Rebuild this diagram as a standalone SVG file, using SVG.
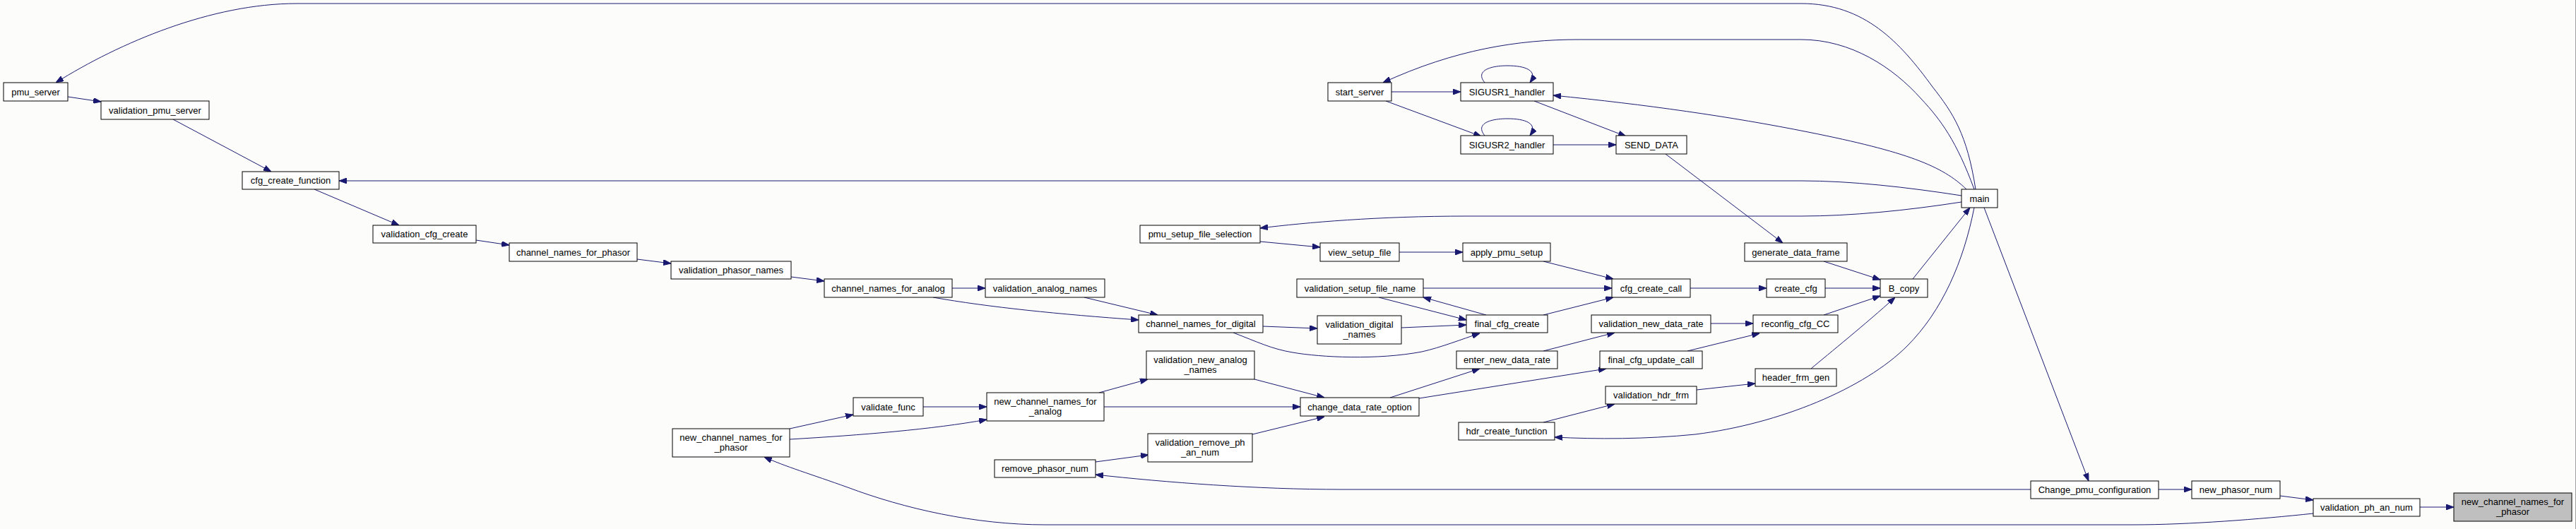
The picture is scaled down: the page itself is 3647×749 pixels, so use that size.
<svg xmlns="http://www.w3.org/2000/svg" width="3647" height="749" viewBox="0 0 3647 749">
<style>
.n rect{fill:#ffffff;stroke:#000000;stroke-width:1}
.n.h rect{fill:#bfbfbf}
.n text{font-family:"Liberation Sans",Arial,sans-serif;font-size:13px;fill:#000000;text-anchor:middle}
.e path{fill:none;stroke:#191970;stroke-width:1;marker-end:url(#arr)}
</style>
<defs>
<marker id="arr" markerWidth="11" markerHeight="8" refX="11" refY="4" orient="auto" markerUnits="userSpaceOnUse">
<path d="M0,0 L11,4 L0,8 z" fill="#191970" stroke="#191970" stroke-width="1"/>
</marker>
</defs>
<rect x="0" y="0" width="3647" height="749" fill="#fcfdfb"/>
<line x1="3646.5" y1="0" x2="3646.5" y2="749" stroke="#a0a0a0" stroke-width="1"/>
<g id="edges" class="e">
<path d="M2797,268 C2785,190 2765,160 2736,123 C2690,60 2640,5 2550,5 L420,5 C300,5 170,60 79,117"/>
<path d="M2795,268 C2770,200 2748,170 2720,140 C2680,95 2620,56 2550,56 L2235,56 C2150,56 2060,70 1958,117"/>
<path d="M2784,268 C2750,235 2700,215 2560,187 C2450,165 2330,148 2199,135"/>
<path d="M2777,277 C2700,265 2620,256 2550,256 L480,256"/>
<path d="M2777,286 C2700,298 2620,306 2550,306 L2077,306 C1950,306 1850,315 1784,323"/>
<path d="M2358,218 L2524,344"/>
<path d="M2708,395 L2789,294"/>
<path d="M2795,294 C2780,370 2750,440 2700,490 C2640,550 2520,600 2400,615 C2330,622 2260,622 2201,619"/>
<path d="M2809,294 L2957,681"/>
<path d="M2875,693 L1900,693 C1780,693 1650,683 1551,672"/>
<path d="M3056,693 L3103,693"/>
<path d="M3228,702 L3275,708"/>
<path d="M3426,718 L3474,718"/>
<path d="M3275,727 C3200,735 3100,743 3020,743 L1480,743 C1380,743 1280,720 1200,690 C1150,672 1110,660 1082,647"/>
<path d="M2102,117 C2088,100 2110,93 2134,93 C2160,93 2178,100 2166,117"/>
<path d="M2102,192 C2088,175 2110,168 2134,168 C2160,168 2178,175 2166,192"/>
<path d="M1970,130 L2068,130"/>
<path d="M1962,143 L2097,193"/>
<path d="M2172,143 L2302,193"/>
<path d="M2199,205 L2288,205"/>
<path d="M96,137 L143,144"/>
<path d="M245,169 L384,243"/>
<path d="M445,268 L565,319"/>
<path d="M674,340 L721,347"/>
<path d="M902,367 L950,373"/>
<path d="M1120,392 L1167,398"/>
<path d="M1348,408 L1395,408"/>
<path d="M1321,421 C1400,435 1500,445 1612,453"/>
<path d="M1535,421 L1639,446"/>
<path d="M1788,462 L1865,465"/>
<path d="M1746,471 C1780,484 1800,494 1830,499 C1870,506 1950,510 2013,498 C2040,492 2070,480 2095,472"/>
<path d="M1984,464 L2076,460"/>
<path d="M1952,421 L2076,453"/>
<path d="M2104,446 L2015,421"/>
<path d="M2185,446 L2284,421"/>
<path d="M2015,408 L2282,408"/>
<path d="M2185,370 L2284,395"/>
<path d="M1784,342 L1869,350"/>
<path d="M1981,357 L2071,357"/>
<path d="M2393,408 L2501,408"/>
<path d="M2584,408 L2662,408"/>
<path d="M2582,370 L2662,396"/>
<path d="M2582,446 L2662,419"/>
<path d="M2564,522 C2590,500 2640,460 2683,421"/>
<path d="M2422,458 L2482,458"/>
<path d="M2389,497 L2491,472"/>
<path d="M2402,552 L2485,543"/>
<path d="M2185,598 L2286,572"/>
<path d="M1968,563 L2095,522"/>
<path d="M2185,497 L2286,471"/>
<path d="M2009,564 L2274,522"/>
<path d="M1556,556 L1625,537"/>
<path d="M1563,576 L1841,576"/>
<path d="M1776,537 L1875,563"/>
<path d="M1773,615 L1875,590"/>
<path d="M1551,654 L1626,644"/>
<path d="M1307,576 L1397,576"/>
<path d="M1118,607 L1208,587"/>
<path d="M1118,622 C1220,616 1320,608 1397,594"/>
</g>
<g id="n_pmu_server" class="n"><rect x="5" y="117" width="91" height="26"/><text x="50.5" y="134.5">pmu_server</text></g>
<g id="n_validation_pmu_server" class="n"><rect x="143" y="143" width="153" height="26"/><text x="219.5" y="160.5">validation_pmu_server</text></g>
<g id="n_cfg_create_function" class="n"><rect x="343" y="243" width="137" height="25"/><text x="411.5" y="260">cfg_create_function</text></g>
<g id="n_validation_cfg_create" class="n"><rect x="528" y="319" width="146" height="25"/><text x="601" y="336">validation_cfg_create</text></g>
<g id="n_channel_names_for_phasor" class="n"><rect x="721" y="344" width="181" height="26"/><text x="811.5" y="361.5">channel_names_for_phasor</text></g>
<g id="n_validation_phasor_names" class="n"><rect x="950" y="370" width="170" height="25"/><text x="1035" y="387">validation_phasor_names</text></g>
<g id="n_channel_names_for_analog" class="n"><rect x="1167" y="395" width="181" height="26"/><text x="1257.5" y="412.5">channel_names_for_analog</text></g>
<g id="n_validation_analog_names" class="n"><rect x="1395" y="395" width="169" height="26"/><text x="1479.5" y="412.5">validation_analog_names</text></g>
<g id="n_channel_names_for_digital" class="n"><rect x="1612" y="446" width="176" height="25"/><text x="1700" y="463">channel_names_for_digital</text></g>
<g id="n_validation_new_analog_names" class="n"><rect x="1623" y="497" width="153" height="40"/><text x="1699.5" y="513.5">validation_new_analog</text><text x="1699.5" y="528">_names</text></g>
<g id="n_new_channel_names_for_analog" class="n"><rect x="1397" y="556" width="166" height="40"/><text x="1480" y="572.5">new_channel_names_for</text><text x="1480" y="587">_analog</text></g>
<g id="n_validate_func" class="n"><rect x="1208" y="563" width="99" height="26"/><text x="1257.5" y="580.5">validate_func</text></g>
<g id="n_new_channel_names_for_phasor_left" class="n"><rect x="952" y="607" width="166" height="40"/><text x="1035" y="623.5">new_channel_names_for</text><text x="1035" y="638">_phasor</text></g>
<g id="n_validation_remove_ph_an_num" class="n"><rect x="1625" y="614" width="148" height="40"/><text x="1699" y="630.5">validation_remove_ph</text><text x="1699" y="645">_an_num</text></g>
<g id="n_remove_phasor_num" class="n"><rect x="1408" y="651" width="143" height="25"/><text x="1479.5" y="668">remove_phasor_num</text></g>
<g id="n_pmu_setup_file_selection" class="n"><rect x="1614" y="319" width="170" height="25"/><text x="1699" y="336">pmu_setup_file_selection</text></g>
<g id="n_start_server" class="n"><rect x="1880" y="117" width="90" height="26"/><text x="1925" y="134.5">start_server</text></g>
<g id="n_SIGUSR1_handler" class="n"><rect x="2068" y="117" width="131" height="26"/><text x="2133.5" y="134.5">SIGUSR1_handler</text></g>
<g id="n_SIGUSR2_handler" class="n"><rect x="2068" y="192" width="131" height="26"/><text x="2133.5" y="209.5">SIGUSR2_handler</text></g>
<g id="n_SEND_DATA" class="n"><rect x="2288" y="192" width="100" height="26"/><text x="2338" y="209.5">SEND_DATA</text></g>
<g id="n_view_setup_file" class="n"><rect x="1869" y="344" width="112" height="26"/><text x="1925" y="361.5">view_setup_file</text></g>
<g id="n_apply_pmu_setup" class="n"><rect x="2071" y="344" width="124" height="26"/><text x="2133" y="361.5">apply_pmu_setup</text></g>
<g id="n_validation_setup_file_name" class="n"><rect x="1836" y="395" width="179" height="26"/><text x="1925.5" y="412.5">validation_setup_file_name</text></g>
<g id="n_cfg_create_call" class="n"><rect x="2282" y="395" width="111" height="26"/><text x="2337.5" y="412.5">cfg_create_call</text></g>
<g id="n_final_cfg_create" class="n"><rect x="2076" y="446" width="115" height="25"/><text x="2133.5" y="463">final_cfg_create</text></g>
<g id="n_validation_digital_names" class="n"><rect x="1865" y="447" width="119" height="40"/><text x="1924.5" y="463.5">validation_digital</text><text x="1924.5" y="478">_names</text></g>
<g id="n_validation_new_data_rate" class="n"><rect x="2253" y="446" width="169" height="25"/><text x="2337.5" y="463">validation_new_data_rate</text></g>
<g id="n_enter_new_data_rate" class="n"><rect x="2062" y="497" width="143" height="25"/><text x="2133.5" y="514">enter_new_data_rate</text></g>
<g id="n_final_cfg_update_call" class="n"><rect x="2265" y="497" width="145" height="25"/><text x="2337.5" y="514">final_cfg_update_call</text></g>
<g id="n_change_data_rate_option" class="n"><rect x="1841" y="563" width="168" height="26"/><text x="1925" y="580.5">change_data_rate_option</text></g>
<g id="n_validation_hdr_frm" class="n"><rect x="2273" y="547" width="129" height="25"/><text x="2337.5" y="564">validation_hdr_frm</text></g>
<g id="n_hdr_create_function" class="n"><rect x="2065" y="598" width="136" height="25"/><text x="2133" y="615">hdr_create_function</text></g>
<g id="n_main" class="n"><rect x="2777" y="268" width="51" height="26"/><text x="2802.5" y="285.5">main</text></g>
<g id="n_generate_data_frame" class="n"><rect x="2470" y="344" width="145" height="26"/><text x="2542.5" y="361.5">generate_data_frame</text></g>
<g id="n_B_copy" class="n"><rect x="2662" y="395" width="67" height="26"/><text x="2695.5" y="412.5">B_copy</text></g>
<g id="n_create_cfg" class="n"><rect x="2501" y="395" width="83" height="26"/><text x="2542.5" y="412.5">create_cfg</text></g>
<g id="n_reconfig_cfg_CC" class="n"><rect x="2482" y="446" width="120" height="25"/><text x="2542" y="463">reconfig_cfg_CC</text></g>
<g id="n_header_frm_gen" class="n"><rect x="2485" y="522" width="115" height="25"/><text x="2542.5" y="539">header_frm_gen</text></g>
<g id="n_Change_pmu_configuration" class="n"><rect x="2875" y="681" width="181" height="25"/><text x="2965.5" y="698">Change_pmu_configuration</text></g>
<g id="n_new_phasor_num" class="n"><rect x="3103" y="681" width="125" height="25"/><text x="3165.5" y="698">new_phasor_num</text></g>
<g id="n_validation_ph_an_num" class="n"><rect x="3275" y="706" width="151" height="25"/><text x="3350.5" y="723">validation_ph_an_num</text></g>
<g id="n_new_channel_names_for_phasor" class="n h"><rect x="3474" y="698" width="167" height="40"/><text x="3557.5" y="714.5">new_channel_names_for</text><text x="3557.5" y="729">_phasor</text></g>
</svg>
